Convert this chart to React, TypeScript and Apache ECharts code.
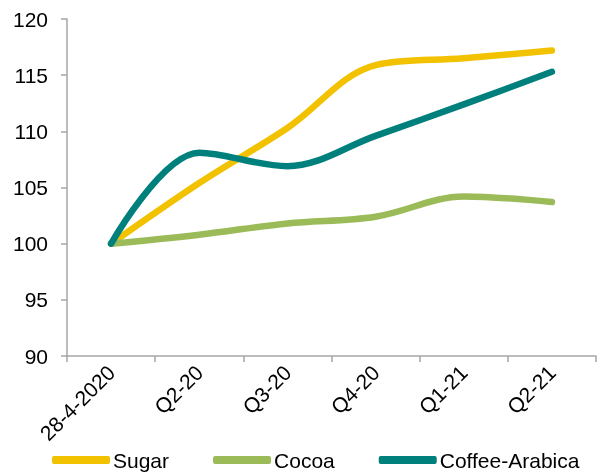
import React, { useEffect, useRef } from "react";
import * as echarts from "echarts";

const categories = ["28-4-2020", "Q2-20", "Q3-20", "Q4-20", "Q1-21", "Q2-21"];
const sugar = [100, 105.4, 110.3, 115.9, 116.5, 117.2];
const cocoa = [100, 100.8, 101.8, 102.4, 104.2, 103.7];
const coffee = [100, 108.1, 106.9, 109.6, 112.4, 115.3];
const yTicks = { min: 90, max: 120, interval: 5 };

const FONT = "'Liberation Sans', Arial, sans-serif";

export default function App() {
  const ref = useRef<HTMLDivElement>(null);
  useEffect(() => {
    if (!ref.current) return;
    const chart = echarts.init(ref.current, undefined, { renderer: "svg" });
    const mk = (name: string, data: number[], color: string) => ({
      name,
      type: "line",
      data,
      smooth: 0.35,
      symbol: "none",
      lineStyle: { color, width: 6.5, cap: "round", join: "round" },
      itemStyle: { color },
    });
    chart.setOption({
      animation: false,
      textStyle: { fontFamily: FONT },
      grid: { left: 67, right: 4, top: 19, bottom: 116, containLabel: false },
      legend: {
        top: 449,
        left: 52,
        padding: 0,
        itemWidth: 58,
        itemHeight: 8,
        itemGap: 44,
        icon: "roundRect",
        textStyle: { fontFamily: FONT, fontSize: 21, lineHeight: 22, color: "#000", padding: [0, 0, 0, -2] },
        data: ["Sugar", "Cocoa", "Coffee-Arabica"],
      },
      xAxis: {
        type: "category",
        data: categories,
        boundaryGap: true,
        axisLine: { lineStyle: { color: "#A6A6A6", width: 1.5 } },
        axisTick: { show: true, length: 6, lineStyle: { color: "#A6A6A6", width: 1.5 } },
        axisLabel: { rotate: 45, fontSize: 21, color: "#000", fontFamily: FONT, margin: 13, interval: 0 },
        splitLine: { show: false },
      },
      yAxis: {
        type: "value",
        min: yTicks.min,
        max: yTicks.max,
        interval: yTicks.interval,
        axisLine: { show: true, lineStyle: { color: "#A6A6A6", width: 1.5 } },
        axisTick: { show: true, length: 6, lineStyle: { color: "#A6A6A6", width: 1.5 } },
        axisLabel: { fontSize: 21, color: "#000", fontFamily: FONT, margin: 19 },
        splitLine: { show: false },
      },
      series: [
        mk("Sugar", sugar, "#F2C200"),
        mk("Cocoa", cocoa, "#9BBB59"),
        mk("Coffee-Arabica", coffee, "#00807C"),
      ],
    });
    return () => chart.dispose();
  }, []);
  return (
    <div
      ref={ref}
      style={{ position: "fixed", left: 0, top: 0, width: 600, height: 472 }}
    />
  );
}
